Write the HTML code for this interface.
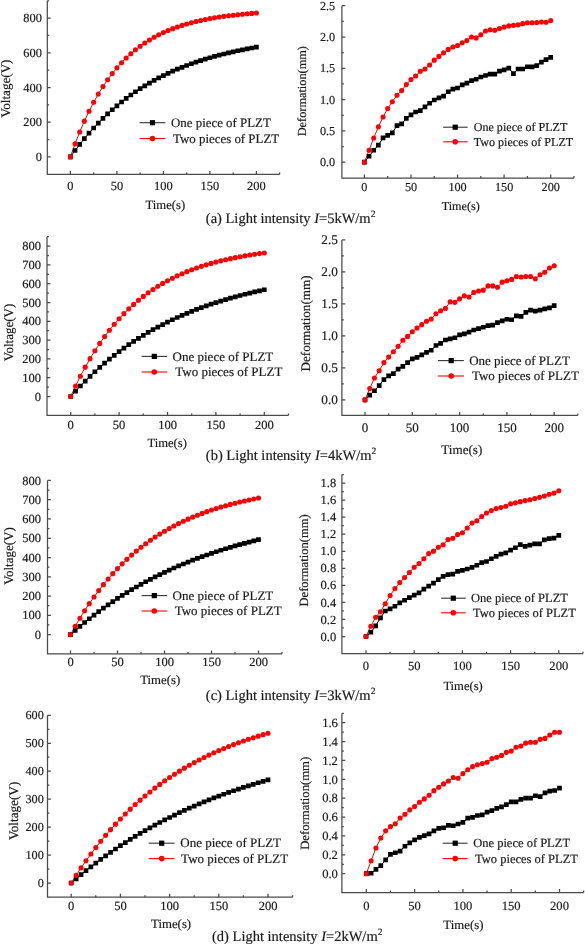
<!DOCTYPE html>
<html><head><meta charset="utf-8"><style>
html,body{margin:0;padding:0;background:#fff;}
svg{display:block;will-change:transform;filter:blur(0.3px);}
text{font-family:"Liberation Serif", serif;fill:#1a1a1a;text-rendering:geometricPrecision;stroke:#1a1a1a;stroke-width:0.18px;}
</style></head><body>
<svg width="585" height="944" viewBox="0 0 585 944">
<rect width="585" height="944" fill="#fff"/>
<g>
<path d="M47.3 0.75V174.3H279.65" fill="none" stroke="#4a4a4a" stroke-width="1.25"/>
<path d="M70.4 174.3v-3.4M116.9 174.3v-3.4M163.4 174.3v-3.4M209.9 174.3v-3.4M256.4 174.3v-3.4M93.65 174.3v-1.9M140.15 174.3v-1.9M186.65 174.3v-1.9M233.15 174.3v-1.9M279.65 174.3v-1.9M47.3 156.9h3.4M47.3 139.55h1.9M47.3 122.2h3.4M47.3 104.85h1.9M47.3 87.5h3.4M47.3 70.15h1.9M47.3 52.8h3.4M47.3 35.45h1.9M47.3 18.1h3.4M47.3 0.75h1.9" fill="none" stroke="#4a4a4a" stroke-width="1.25"/>
<text x="41.9" y="160.99" font-size="12.4" text-anchor="end">0</text>
<text x="41.9" y="126.29" font-size="12.4" text-anchor="end">200</text>
<text x="41.9" y="91.59" font-size="12.4" text-anchor="end">400</text>
<text x="41.9" y="56.89" font-size="12.4" text-anchor="end">600</text>
<text x="41.9" y="22.19" font-size="12.4" text-anchor="end">800</text>
<text x="70.4" y="189.79" font-size="12.4" text-anchor="middle">0</text>
<text x="116.9" y="189.79" font-size="12.4" text-anchor="middle">50</text>
<text x="163.4" y="189.79" font-size="12.4" text-anchor="middle">100</text>
<text x="209.9" y="189.79" font-size="12.4" text-anchor="middle">150</text>
<text x="256.4" y="189.79" font-size="12.4" text-anchor="middle">200</text>
<text x="165.3" y="209.49" font-size="12.7" text-anchor="middle">Time(s)</text>
<text transform="translate(10.22 88.5) rotate(-90)" font-size="13.1" text-anchor="middle">Voltage(V)</text>
<polyline points="70.4,156.9 75.05,150.5 79.7,144.42 84.35,138.65 89,133.18 93.65,128 98.3,123.07 102.95,118.4 107.6,113.97 112.25,109.77 116.9,105.78 121.55,102 126.2,98.41 130.85,95 135.5,91.77 140.15,88.7 144.8,85.8 149.45,83.04 154.1,80.42 158.75,77.94 163.4,75.58 168.05,73.34 172.7,71.22 177.35,69.21 182,67.3 186.65,65.49 191.3,63.77 195.95,62.14 200.6,60.6 205.25,59.13 209.9,57.74 214.55,56.42 219.2,55.16 223.85,53.98 228.5,52.85 233.15,51.78 237.8,50.76 242.45,49.8 247.1,48.89 251.75,48.02 256.4,47.2" fill="none" stroke="#000" stroke-width="1"/>
<polyline points="70.4,156.9 75.05,143.86 79.7,131.97 84.35,121.13 89,111.25 93.65,102.25 98.3,94.04 102.95,86.56 107.6,79.74 112.25,73.52 116.9,67.85 121.55,62.68 126.2,57.97 130.85,53.68 135.5,49.77 140.15,46.2 144.8,42.95 149.45,39.98 154.1,37.28 158.75,34.82 163.4,32.57 168.05,30.52 172.7,28.66 177.35,26.96 182,25.41 186.65,23.99 191.3,22.7 195.95,21.53 200.6,20.46 205.25,19.48 209.9,18.59 214.55,17.78 219.2,17.04 223.85,16.37 228.5,15.76 233.15,15.2 237.8,14.69 242.45,14.22 247.1,13.8 251.75,13.41 256.4,13.06" fill="none" stroke="#f00" stroke-width="1"/>
<path d="M68.05 154.55h4.7v4.7h-4.7zM72.7 148.15h4.7v4.7h-4.7zM77.35 142.07h4.7v4.7h-4.7zM82 136.3h4.7v4.7h-4.7zM86.65 130.83h4.7v4.7h-4.7zM91.3 125.65h4.7v4.7h-4.7zM95.95 120.72h4.7v4.7h-4.7zM100.6 116.05h4.7v4.7h-4.7zM105.25 111.62h4.7v4.7h-4.7zM109.9 107.42h4.7v4.7h-4.7zM114.55 103.43h4.7v4.7h-4.7zM119.2 99.65h4.7v4.7h-4.7zM123.85 96.06h4.7v4.7h-4.7zM128.5 92.65h4.7v4.7h-4.7zM133.15 89.42h4.7v4.7h-4.7zM137.8 86.35h4.7v4.7h-4.7zM142.45 83.45h4.7v4.7h-4.7zM147.1 80.69h4.7v4.7h-4.7zM151.75 78.07h4.7v4.7h-4.7zM156.4 75.59h4.7v4.7h-4.7zM161.05 73.23h4.7v4.7h-4.7zM165.7 70.99h4.7v4.7h-4.7zM170.35 68.87h4.7v4.7h-4.7zM175 66.86h4.7v4.7h-4.7zM179.65 64.95h4.7v4.7h-4.7zM184.3 63.14h4.7v4.7h-4.7zM188.95 61.42h4.7v4.7h-4.7zM193.6 59.79h4.7v4.7h-4.7zM198.25 58.25h4.7v4.7h-4.7zM202.9 56.78h4.7v4.7h-4.7zM207.55 55.39h4.7v4.7h-4.7zM212.2 54.07h4.7v4.7h-4.7zM216.85 52.81h4.7v4.7h-4.7zM221.5 51.63h4.7v4.7h-4.7zM226.15 50.5h4.7v4.7h-4.7zM230.8 49.43h4.7v4.7h-4.7zM235.45 48.41h4.7v4.7h-4.7zM240.1 47.45h4.7v4.7h-4.7zM244.75 46.54h4.7v4.7h-4.7zM249.4 45.67h4.7v4.7h-4.7zM254.05 44.85h4.7v4.7h-4.7z" fill="#000"/>
<g fill="#f00"><circle cx="70.4" cy="156.9" r="2.55"/><circle cx="75.05" cy="143.86" r="2.55"/><circle cx="79.7" cy="131.97" r="2.55"/><circle cx="84.35" cy="121.13" r="2.55"/><circle cx="89" cy="111.25" r="2.55"/><circle cx="93.65" cy="102.25" r="2.55"/><circle cx="98.3" cy="94.04" r="2.55"/><circle cx="102.95" cy="86.56" r="2.55"/><circle cx="107.6" cy="79.74" r="2.55"/><circle cx="112.25" cy="73.52" r="2.55"/><circle cx="116.9" cy="67.85" r="2.55"/><circle cx="121.55" cy="62.68" r="2.55"/><circle cx="126.2" cy="57.97" r="2.55"/><circle cx="130.85" cy="53.68" r="2.55"/><circle cx="135.5" cy="49.77" r="2.55"/><circle cx="140.15" cy="46.2" r="2.55"/><circle cx="144.8" cy="42.95" r="2.55"/><circle cx="149.45" cy="39.98" r="2.55"/><circle cx="154.1" cy="37.28" r="2.55"/><circle cx="158.75" cy="34.82" r="2.55"/><circle cx="163.4" cy="32.57" r="2.55"/><circle cx="168.05" cy="30.52" r="2.55"/><circle cx="172.7" cy="28.66" r="2.55"/><circle cx="177.35" cy="26.96" r="2.55"/><circle cx="182" cy="25.41" r="2.55"/><circle cx="186.65" cy="23.99" r="2.55"/><circle cx="191.3" cy="22.7" r="2.55"/><circle cx="195.95" cy="21.53" r="2.55"/><circle cx="200.6" cy="20.46" r="2.55"/><circle cx="205.25" cy="19.48" r="2.55"/><circle cx="209.9" cy="18.59" r="2.55"/><circle cx="214.55" cy="17.78" r="2.55"/><circle cx="219.2" cy="17.04" r="2.55"/><circle cx="223.85" cy="16.37" r="2.55"/><circle cx="228.5" cy="15.76" r="2.55"/><circle cx="233.15" cy="15.2" r="2.55"/><circle cx="237.8" cy="14.69" r="2.55"/><circle cx="242.45" cy="14.22" r="2.55"/><circle cx="247.1" cy="13.8" r="2.55"/><circle cx="251.75" cy="13.41" r="2.55"/><circle cx="256.4" cy="13.06" r="2.55"/></g>
<path d="M139.6 122.7H165.4" stroke="#333" stroke-width="1.1"/>
<path d="M139.6 138.5H165.4" stroke="#f00" stroke-width="1.1"/>
<rect x="149.9" y="120.1" width="5.2" height="5.2" fill="#000"/>
<circle cx="152.5" cy="138.5" r="2.8" fill="#f00"/>
<text x="171" y="126.96" font-size="12.9" text-anchor="start">One piece of PLZT</text>
<text x="173" y="142.76" font-size="12.9" text-anchor="start">Two pieces of PLZT</text>
</g>
<g>
<path d="M341.9 5.7V178H573.99" fill="none" stroke="#4a4a4a" stroke-width="1.25"/>
<path d="M364.4 178v-3.4M410.97 178v-3.4M457.55 178v-3.4M504.12 178v-3.4M550.7 178v-3.4M387.69 178v-1.9M434.26 178v-1.9M480.84 178v-1.9M527.41 178v-1.9M573.99 178v-1.9M341.9 162.2h3.4M341.9 146.55h1.9M341.9 130.9h3.4M341.9 115.25h1.9M341.9 99.6h3.4M341.9 83.95h1.9M341.9 68.3h3.4M341.9 52.65h1.9M341.9 37h3.4M341.9 21.35h1.9M341.9 5.7h3.4" fill="none" stroke="#4a4a4a" stroke-width="1.25"/>
<text x="335.2" y="166.23" font-size="12.2" text-anchor="end">0.0</text>
<text x="335.2" y="134.93" font-size="12.2" text-anchor="end">0.5</text>
<text x="335.2" y="103.63" font-size="12.2" text-anchor="end">1.0</text>
<text x="335.2" y="72.33" font-size="12.2" text-anchor="end">1.5</text>
<text x="335.2" y="41.03" font-size="12.2" text-anchor="end">2.0</text>
<text x="335.2" y="9.73" font-size="12.2" text-anchor="end">2.5</text>
<text x="364.4" y="190.83" font-size="12.2" text-anchor="middle">0</text>
<text x="410.97" y="190.83" font-size="12.2" text-anchor="middle">50</text>
<text x="457.55" y="190.83" font-size="12.2" text-anchor="middle">100</text>
<text x="504.12" y="190.83" font-size="12.2" text-anchor="middle">150</text>
<text x="550.7" y="190.83" font-size="12.2" text-anchor="middle">200</text>
<text x="460.8" y="209.63" font-size="12.2" text-anchor="middle">Time(s)</text>
<text transform="translate(305.76 91.2) rotate(-90)" font-size="12.3" text-anchor="middle">Deformation(mm)</text>
<polyline points="364.4,162.2 369.06,156.25 373.71,150.24 378.37,145.11 383.03,137.97 387.69,135.41 392.34,132.84 397,125.64 401.66,123.95 406.32,118.32 410.97,114.87 415.63,111.99 420.29,110.62 424.95,106.86 429.6,103.23 434.26,99.98 438.92,97.78 443.58,96.09 448.23,91.77 452.89,89.21 457.55,88.02 462.21,84.89 466.87,83.14 471.52,80.57 476.18,79.25 480.84,77 485.5,75.5 490.15,74.12 494.81,74.12 499.47,71.05 504.12,69.8 508.78,68.11 513.44,73.56 518.1,68.99 522.75,68.99 527.41,66.73 532.07,66.92 536.73,65.55 541.38,62.17 546.04,59.6 550.7,57.34" fill="none" stroke="#000" stroke-width="1"/>
<polyline points="364.4,162.2 369.06,150.24 373.71,137.97 378.37,126.83 383.03,117.07 387.69,108.55 392.34,101.73 397,95.22 401.66,90.59 406.32,84.58 410.97,79.51 415.63,76.06 420.29,71.3 424.95,69.05 429.6,64.98 434.26,60.16 438.92,56.41 443.58,52.84 448.23,49.39 452.89,47.02 457.55,45.45 462.21,42.82 466.87,40.44 471.52,37 476.18,37.88 480.84,34.81 485.5,31.05 490.15,29.68 494.81,30.18 499.47,28.49 504.12,27.11 508.78,25.92 513.44,25.36 518.1,24.86 522.75,23.67 527.41,22.79 532.07,22.79 536.73,22.48 541.38,21.98 546.04,22.29 550.7,20.6" fill="none" stroke="#f00" stroke-width="1"/>
<path d="M362.05 159.85h4.7v4.7h-4.7zM366.71 153.9h4.7v4.7h-4.7zM371.36 147.89h4.7v4.7h-4.7zM376.02 142.76h4.7v4.7h-4.7zM380.68 135.62h4.7v4.7h-4.7zM385.34 133.06h4.7v4.7h-4.7zM389.99 130.49h4.7v4.7h-4.7zM394.65 123.29h4.7v4.7h-4.7zM399.31 121.6h4.7v4.7h-4.7zM403.97 115.97h4.7v4.7h-4.7zM408.62 112.52h4.7v4.7h-4.7zM413.28 109.64h4.7v4.7h-4.7zM417.94 108.27h4.7v4.7h-4.7zM422.6 104.51h4.7v4.7h-4.7zM427.25 100.88h4.7v4.7h-4.7zM431.91 97.63h4.7v4.7h-4.7zM436.57 95.43h4.7v4.7h-4.7zM441.23 93.74h4.7v4.7h-4.7zM445.88 89.42h4.7v4.7h-4.7zM450.54 86.86h4.7v4.7h-4.7zM455.2 85.67h4.7v4.7h-4.7zM459.86 82.54h4.7v4.7h-4.7zM464.51 80.79h4.7v4.7h-4.7zM469.17 78.22h4.7v4.7h-4.7zM473.83 76.91h4.7v4.7h-4.7zM478.49 74.65h4.7v4.7h-4.7zM483.14 73.15h4.7v4.7h-4.7zM487.8 71.77h4.7v4.7h-4.7zM492.46 71.77h4.7v4.7h-4.7zM497.12 68.7h4.7v4.7h-4.7zM501.77 67.45h4.7v4.7h-4.7zM506.43 65.76h4.7v4.7h-4.7zM511.09 71.21h4.7v4.7h-4.7zM515.75 66.64h4.7v4.7h-4.7zM520.4 66.64h4.7v4.7h-4.7zM525.06 64.38h4.7v4.7h-4.7zM529.72 64.57h4.7v4.7h-4.7zM534.38 63.2h4.7v4.7h-4.7zM539.03 59.82h4.7v4.7h-4.7zM543.69 57.25h4.7v4.7h-4.7zM548.35 54.99h4.7v4.7h-4.7z" fill="#000"/>
<g fill="#f00"><circle cx="364.4" cy="162.2" r="2.55"/><circle cx="369.06" cy="150.24" r="2.55"/><circle cx="373.71" cy="137.97" r="2.55"/><circle cx="378.37" cy="126.83" r="2.55"/><circle cx="383.03" cy="117.07" r="2.55"/><circle cx="387.69" cy="108.55" r="2.55"/><circle cx="392.34" cy="101.73" r="2.55"/><circle cx="397" cy="95.22" r="2.55"/><circle cx="401.66" cy="90.59" r="2.55"/><circle cx="406.32" cy="84.58" r="2.55"/><circle cx="410.97" cy="79.51" r="2.55"/><circle cx="415.63" cy="76.06" r="2.55"/><circle cx="420.29" cy="71.3" r="2.55"/><circle cx="424.95" cy="69.05" r="2.55"/><circle cx="429.6" cy="64.98" r="2.55"/><circle cx="434.26" cy="60.16" r="2.55"/><circle cx="438.92" cy="56.41" r="2.55"/><circle cx="443.58" cy="52.84" r="2.55"/><circle cx="448.23" cy="49.39" r="2.55"/><circle cx="452.89" cy="47.02" r="2.55"/><circle cx="457.55" cy="45.45" r="2.55"/><circle cx="462.21" cy="42.82" r="2.55"/><circle cx="466.87" cy="40.44" r="2.55"/><circle cx="471.52" cy="37" r="2.55"/><circle cx="476.18" cy="37.88" r="2.55"/><circle cx="480.84" cy="34.81" r="2.55"/><circle cx="485.5" cy="31.05" r="2.55"/><circle cx="490.15" cy="29.68" r="2.55"/><circle cx="494.81" cy="30.18" r="2.55"/><circle cx="499.47" cy="28.49" r="2.55"/><circle cx="504.12" cy="27.11" r="2.55"/><circle cx="508.78" cy="25.92" r="2.55"/><circle cx="513.44" cy="25.36" r="2.55"/><circle cx="518.1" cy="24.86" r="2.55"/><circle cx="522.75" cy="23.67" r="2.55"/><circle cx="527.41" cy="22.79" r="2.55"/><circle cx="532.07" cy="22.79" r="2.55"/><circle cx="536.73" cy="22.48" r="2.55"/><circle cx="541.38" cy="21.98" r="2.55"/><circle cx="546.04" cy="22.29" r="2.55"/><circle cx="550.7" cy="20.6" r="2.55"/></g>
<path d="M443.2 127.2H467.6" stroke="#333" stroke-width="1.1"/>
<path d="M443.2 141.8H467.6" stroke="#f00" stroke-width="1.1"/>
<rect x="452.6" y="124.6" width="5.2" height="5.2" fill="#000"/>
<circle cx="455.2" cy="141.8" r="2.8" fill="#f00"/>
<text x="473.7" y="131.19" font-size="12.1" text-anchor="start">One piece of PLZT</text>
<text x="473.7" y="145.79" font-size="12.1" text-anchor="start">Two pieces of PLZT</text>
</g>
<g>
<path d="M47 236.7V415.3H288.5" fill="none" stroke="#4a4a4a" stroke-width="1.25"/>
<path d="M70.7 415.3v-3.4M119.1 415.3v-3.4M167.5 415.3v-3.4M215.9 415.3v-3.4M264.3 415.3v-3.4M94.9 415.3v-1.9M143.3 415.3v-1.9M191.7 415.3v-1.9M240.1 415.3v-1.9M288.5 415.3v-1.9M47 396.5h3.4M47 387.1h1.9M47 377.7h3.4M47 368.3h1.9M47 358.9h3.4M47 349.5h1.9M47 340.1h3.4M47 330.7h1.9M47 321.3h3.4M47 311.9h1.9M47 302.5h3.4M47 293.1h1.9M47 283.7h3.4M47 274.3h1.9M47 264.9h3.4M47 255.5h1.9M47 246.1h3.4M47 236.7h1.9" fill="none" stroke="#4a4a4a" stroke-width="1.25"/>
<text x="41" y="400.62" font-size="12.5" text-anchor="end">0</text>
<text x="41" y="381.82" font-size="12.5" text-anchor="end">100</text>
<text x="41" y="363.02" font-size="12.5" text-anchor="end">200</text>
<text x="41" y="344.23" font-size="12.5" text-anchor="end">300</text>
<text x="41" y="325.43" font-size="12.5" text-anchor="end">400</text>
<text x="41" y="306.62" font-size="12.5" text-anchor="end">500</text>
<text x="41" y="287.82" font-size="12.5" text-anchor="end">600</text>
<text x="41" y="269.02" font-size="12.5" text-anchor="end">700</text>
<text x="41" y="250.22" font-size="12.5" text-anchor="end">800</text>
<text x="70.7" y="428.93" font-size="12.5" text-anchor="middle">0</text>
<text x="119.1" y="428.93" font-size="12.5" text-anchor="middle">50</text>
<text x="167.5" y="428.93" font-size="12.5" text-anchor="middle">100</text>
<text x="215.9" y="428.93" font-size="12.5" text-anchor="middle">150</text>
<text x="264.3" y="428.93" font-size="12.5" text-anchor="middle">200</text>
<text x="167.2" y="446.86" font-size="12.6" text-anchor="middle">Time(s)</text>
<text transform="translate(13.19 332.5) rotate(-90)" font-size="13" text-anchor="middle">Voltage(V)</text>
<polyline points="70.7,396.5 75.54,391.13 80.38,385.98 85.22,381.04 90.06,376.3 94.9,371.75 99.74,367.39 104.58,363.21 109.42,359.2 114.26,355.35 119.1,351.66 123.94,348.12 128.78,344.72 133.62,341.46 138.46,338.34 143.3,335.34 148.14,332.47 152.98,329.71 157.82,327.06 162.66,324.53 167.5,322.09 172.34,319.76 177.18,317.52 182.02,315.37 186.86,313.31 191.7,311.34 196.54,309.44 201.38,307.62 206.22,305.88 211.06,304.21 215.9,302.6 220.74,301.07 225.58,299.59 230.42,298.17 235.26,296.82 240.1,295.51 244.94,294.26 249.78,293.07 254.62,291.92 259.46,290.81 264.3,289.76" fill="none" stroke="#000" stroke-width="1"/>
<polyline points="70.7,396.5 75.54,386 80.38,376.23 85.22,367.13 90.06,358.65 94.9,350.77 99.74,343.42 104.58,336.58 109.42,330.22 114.26,324.29 119.1,318.77 123.94,313.63 128.78,308.84 133.62,304.39 138.46,300.24 143.3,296.38 148.14,292.78 152.98,289.44 157.82,286.32 162.66,283.42 167.5,280.71 172.34,278.2 177.18,275.86 182.02,273.68 186.86,271.64 191.7,269.75 196.54,267.99 201.38,266.35 206.22,264.83 211.06,263.41 215.9,262.09 220.74,260.85 225.58,259.71 230.42,258.64 235.26,257.65 240.1,256.72 244.94,255.86 249.78,255.06 254.62,254.31 259.46,253.61 264.3,252.97" fill="none" stroke="#f00" stroke-width="1"/>
<path d="M68.35 394.15h4.7v4.7h-4.7zM73.19 388.78h4.7v4.7h-4.7zM78.03 383.63h4.7v4.7h-4.7zM82.87 378.69h4.7v4.7h-4.7zM87.71 373.95h4.7v4.7h-4.7zM92.55 369.4h4.7v4.7h-4.7zM97.39 365.04h4.7v4.7h-4.7zM102.23 360.86h4.7v4.7h-4.7zM107.07 356.85h4.7v4.7h-4.7zM111.91 353h4.7v4.7h-4.7zM116.75 349.31h4.7v4.7h-4.7zM121.59 345.77h4.7v4.7h-4.7zM126.43 342.37h4.7v4.7h-4.7zM131.27 339.11h4.7v4.7h-4.7zM136.11 335.99h4.7v4.7h-4.7zM140.95 332.99h4.7v4.7h-4.7zM145.79 330.12h4.7v4.7h-4.7zM150.63 327.36h4.7v4.7h-4.7zM155.47 324.71h4.7v4.7h-4.7zM160.31 322.18h4.7v4.7h-4.7zM165.15 319.74h4.7v4.7h-4.7zM169.99 317.41h4.7v4.7h-4.7zM174.83 315.17h4.7v4.7h-4.7zM179.67 313.02h4.7v4.7h-4.7zM184.51 310.96h4.7v4.7h-4.7zM189.35 308.99h4.7v4.7h-4.7zM194.19 307.09h4.7v4.7h-4.7zM199.03 305.27h4.7v4.7h-4.7zM203.87 303.53h4.7v4.7h-4.7zM208.71 301.86h4.7v4.7h-4.7zM213.55 300.25h4.7v4.7h-4.7zM218.39 298.72h4.7v4.7h-4.7zM223.23 297.24h4.7v4.7h-4.7zM228.07 295.82h4.7v4.7h-4.7zM232.91 294.47h4.7v4.7h-4.7zM237.75 293.16h4.7v4.7h-4.7zM242.59 291.91h4.7v4.7h-4.7zM247.43 290.72h4.7v4.7h-4.7zM252.27 289.57h4.7v4.7h-4.7zM257.11 288.46h4.7v4.7h-4.7zM261.95 287.41h4.7v4.7h-4.7z" fill="#000"/>
<g fill="#f00"><circle cx="70.7" cy="396.5" r="2.55"/><circle cx="75.54" cy="386" r="2.55"/><circle cx="80.38" cy="376.23" r="2.55"/><circle cx="85.22" cy="367.13" r="2.55"/><circle cx="90.06" cy="358.65" r="2.55"/><circle cx="94.9" cy="350.77" r="2.55"/><circle cx="99.74" cy="343.42" r="2.55"/><circle cx="104.58" cy="336.58" r="2.55"/><circle cx="109.42" cy="330.22" r="2.55"/><circle cx="114.26" cy="324.29" r="2.55"/><circle cx="119.1" cy="318.77" r="2.55"/><circle cx="123.94" cy="313.63" r="2.55"/><circle cx="128.78" cy="308.84" r="2.55"/><circle cx="133.62" cy="304.39" r="2.55"/><circle cx="138.46" cy="300.24" r="2.55"/><circle cx="143.3" cy="296.38" r="2.55"/><circle cx="148.14" cy="292.78" r="2.55"/><circle cx="152.98" cy="289.44" r="2.55"/><circle cx="157.82" cy="286.32" r="2.55"/><circle cx="162.66" cy="283.42" r="2.55"/><circle cx="167.5" cy="280.71" r="2.55"/><circle cx="172.34" cy="278.2" r="2.55"/><circle cx="177.18" cy="275.86" r="2.55"/><circle cx="182.02" cy="273.68" r="2.55"/><circle cx="186.86" cy="271.64" r="2.55"/><circle cx="191.7" cy="269.75" r="2.55"/><circle cx="196.54" cy="267.99" r="2.55"/><circle cx="201.38" cy="266.35" r="2.55"/><circle cx="206.22" cy="264.83" r="2.55"/><circle cx="211.06" cy="263.41" r="2.55"/><circle cx="215.9" cy="262.09" r="2.55"/><circle cx="220.74" cy="260.85" r="2.55"/><circle cx="225.58" cy="259.71" r="2.55"/><circle cx="230.42" cy="258.64" r="2.55"/><circle cx="235.26" cy="257.65" r="2.55"/><circle cx="240.1" cy="256.72" r="2.55"/><circle cx="244.94" cy="255.86" r="2.55"/><circle cx="249.78" cy="255.06" r="2.55"/><circle cx="254.62" cy="254.31" r="2.55"/><circle cx="259.46" cy="253.61" r="2.55"/><circle cx="264.3" cy="252.97" r="2.55"/></g>
<path d="M141.6 356.4H167.3" stroke="#333" stroke-width="1.1"/>
<path d="M141.6 372H167.3" stroke="#f00" stroke-width="1.1"/>
<rect x="151.7" y="353.8" width="5.2" height="5.2" fill="#000"/>
<circle cx="154.3" cy="372" r="2.8" fill="#f00"/>
<text x="172.6" y="360.69" font-size="13" text-anchor="start">One piece of PLZT</text>
<text x="175.3" y="376.29" font-size="13" text-anchor="start">Two pieces of PLZT</text>
</g>
<g>
<path d="M341.9 239.9V415.3H577.85" fill="none" stroke="#4a4a4a" stroke-width="1.25"/>
<path d="M365 415.3v-3.4M412.3 415.3v-3.4M459.6 415.3v-3.4M506.9 415.3v-3.4M554.2 415.3v-3.4M388.65 415.3v-1.9M435.95 415.3v-1.9M483.25 415.3v-1.9M530.55 415.3v-1.9M577.85 415.3v-1.9M341.9 399.9h3.4M341.9 383.9h1.9M341.9 367.9h3.4M341.9 351.9h1.9M341.9 335.9h3.4M341.9 319.9h1.9M341.9 303.9h3.4M341.9 287.9h1.9M341.9 271.9h3.4M341.9 255.9h1.9M341.9 239.9h3.4" fill="none" stroke="#4a4a4a" stroke-width="1.25"/>
<text x="337.8" y="404.26" font-size="13.2" text-anchor="end">0.0</text>
<text x="337.8" y="372.26" font-size="13.2" text-anchor="end">0.5</text>
<text x="337.8" y="340.26" font-size="13.2" text-anchor="end">1.0</text>
<text x="337.8" y="308.26" font-size="13.2" text-anchor="end">1.5</text>
<text x="337.8" y="276.26" font-size="13.2" text-anchor="end">2.0</text>
<text x="337.8" y="244.26" font-size="13.2" text-anchor="end">2.5</text>
<text x="365" y="432.49" font-size="13" text-anchor="middle">0</text>
<text x="412.3" y="432.49" font-size="13" text-anchor="middle">50</text>
<text x="459.6" y="432.49" font-size="13" text-anchor="middle">100</text>
<text x="506.9" y="432.49" font-size="13" text-anchor="middle">150</text>
<text x="554.2" y="432.49" font-size="13" text-anchor="middle">200</text>
<text x="461.8" y="454.22" font-size="13.1" text-anchor="middle">Time(s)</text>
<text transform="translate(310.22 323.5) rotate(-90)" font-size="13.1" text-anchor="middle">Deformation(mm)</text>
<polyline points="365,399.9 369.73,395.04 374.46,390.75 379.19,385.63 383.92,379.68 388.65,375.9 393.38,373.66 398.11,369.05 402.84,366.3 407.57,362.59 412.3,358.81 417.03,357.47 421.76,354.84 426.49,352.28 431.22,350.24 435.95,345.5 440.68,343.45 445.41,340 450.14,338.97 454.87,337.76 459.6,334.94 464.33,333.79 469.06,332.06 473.79,330.01 478.52,328.6 483.25,327.26 487.98,325.72 492.71,325.21 497.44,322.65 502.17,320.92 506.9,319.26 511.63,319.77 516.36,315.8 521.09,316.32 525.82,312.41 530.55,310.17 535.28,311.2 540.01,310.17 544.74,308.96 549.47,307.8 554.2,305.56" fill="none" stroke="#000" stroke-width="1"/>
<polyline points="365,399.9 369.73,388.57 374.46,377.95 379.19,370.78 383.92,362.59 388.65,357.08 393.38,351.77 398.11,346.33 402.84,340.32 407.57,336.41 412.3,331.8 417.03,328.03 421.76,324.64 426.49,321.18 431.22,318.94 435.95,313.82 440.68,310.75 445.41,308.38 450.14,301.85 454.87,302.36 459.6,298.84 464.33,295.84 469.06,296.99 473.79,292.38 478.52,291.04 483.25,290.14 487.98,285.92 492.71,285.92 497.44,287.26 502.17,282.14 506.9,280.8 511.63,279.39 516.36,276.51 521.09,277.02 525.82,276.51 530.55,276.51 535.28,278.75 540.01,274.78 544.74,272.22 549.47,267.93 554.2,265.76" fill="none" stroke="#f00" stroke-width="1"/>
<path d="M362.65 397.55h4.7v4.7h-4.7zM367.38 392.69h4.7v4.7h-4.7zM372.11 388.4h4.7v4.7h-4.7zM376.84 383.28h4.7v4.7h-4.7zM381.57 377.33h4.7v4.7h-4.7zM386.3 373.55h4.7v4.7h-4.7zM391.03 371.31h4.7v4.7h-4.7zM395.76 366.7h4.7v4.7h-4.7zM400.49 363.95h4.7v4.7h-4.7zM405.22 360.24h4.7v4.7h-4.7zM409.95 356.46h4.7v4.7h-4.7zM414.68 355.12h4.7v4.7h-4.7zM419.41 352.49h4.7v4.7h-4.7zM424.14 349.93h4.7v4.7h-4.7zM428.87 347.89h4.7v4.7h-4.7zM433.6 343.15h4.7v4.7h-4.7zM438.33 341.1h4.7v4.7h-4.7zM443.06 337.65h4.7v4.7h-4.7zM447.79 336.62h4.7v4.7h-4.7zM452.52 335.41h4.7v4.7h-4.7zM457.25 332.59h4.7v4.7h-4.7zM461.98 331.44h4.7v4.7h-4.7zM466.71 329.71h4.7v4.7h-4.7zM471.44 327.66h4.7v4.7h-4.7zM476.17 326.25h4.7v4.7h-4.7zM480.9 324.91h4.7v4.7h-4.7zM485.63 323.37h4.7v4.7h-4.7zM490.36 322.86h4.7v4.7h-4.7zM495.09 320.3h4.7v4.7h-4.7zM499.82 318.57h4.7v4.7h-4.7zM504.55 316.91h4.7v4.7h-4.7zM509.28 317.42h4.7v4.7h-4.7zM514.01 313.45h4.7v4.7h-4.7zM518.74 313.97h4.7v4.7h-4.7zM523.47 310.06h4.7v4.7h-4.7zM528.2 307.82h4.7v4.7h-4.7zM532.93 308.85h4.7v4.7h-4.7zM537.66 307.82h4.7v4.7h-4.7zM542.39 306.61h4.7v4.7h-4.7zM547.12 305.45h4.7v4.7h-4.7zM551.85 303.21h4.7v4.7h-4.7z" fill="#000"/>
<g fill="#f00"><circle cx="365" cy="399.9" r="2.55"/><circle cx="369.73" cy="388.57" r="2.55"/><circle cx="374.46" cy="377.95" r="2.55"/><circle cx="379.19" cy="370.78" r="2.55"/><circle cx="383.92" cy="362.59" r="2.55"/><circle cx="388.65" cy="357.08" r="2.55"/><circle cx="393.38" cy="351.77" r="2.55"/><circle cx="398.11" cy="346.33" r="2.55"/><circle cx="402.84" cy="340.32" r="2.55"/><circle cx="407.57" cy="336.41" r="2.55"/><circle cx="412.3" cy="331.8" r="2.55"/><circle cx="417.03" cy="328.03" r="2.55"/><circle cx="421.76" cy="324.64" r="2.55"/><circle cx="426.49" cy="321.18" r="2.55"/><circle cx="431.22" cy="318.94" r="2.55"/><circle cx="435.95" cy="313.82" r="2.55"/><circle cx="440.68" cy="310.75" r="2.55"/><circle cx="445.41" cy="308.38" r="2.55"/><circle cx="450.14" cy="301.85" r="2.55"/><circle cx="454.87" cy="302.36" r="2.55"/><circle cx="459.6" cy="298.84" r="2.55"/><circle cx="464.33" cy="295.84" r="2.55"/><circle cx="469.06" cy="296.99" r="2.55"/><circle cx="473.79" cy="292.38" r="2.55"/><circle cx="478.52" cy="291.04" r="2.55"/><circle cx="483.25" cy="290.14" r="2.55"/><circle cx="487.98" cy="285.92" r="2.55"/><circle cx="492.71" cy="285.92" r="2.55"/><circle cx="497.44" cy="287.26" r="2.55"/><circle cx="502.17" cy="282.14" r="2.55"/><circle cx="506.9" cy="280.8" r="2.55"/><circle cx="511.63" cy="279.39" r="2.55"/><circle cx="516.36" cy="276.51" r="2.55"/><circle cx="521.09" cy="277.02" r="2.55"/><circle cx="525.82" cy="276.51" r="2.55"/><circle cx="530.55" cy="276.51" r="2.55"/><circle cx="535.28" cy="278.75" r="2.55"/><circle cx="540.01" cy="274.78" r="2.55"/><circle cx="544.74" cy="272.22" r="2.55"/><circle cx="549.47" cy="267.93" r="2.55"/><circle cx="554.2" cy="265.76" r="2.55"/></g>
<path d="M437.9 360.6H463.9" stroke="#333" stroke-width="1.1"/>
<path d="M437.9 376H463.9" stroke="#f00" stroke-width="1.1"/>
<rect x="448.6" y="358" width="5.2" height="5.2" fill="#000"/>
<circle cx="451.2" cy="376" r="2.8" fill="#f00"/>
<text x="469.2" y="364.89" font-size="13" text-anchor="start">One piece of PLZT</text>
<text x="471.9" y="380.29" font-size="13" text-anchor="start">Two pieces of PLZT</text>
</g>
<g>
<path d="M47.5 480.44V653.8H282" fill="none" stroke="#4a4a4a" stroke-width="1.25"/>
<path d="M70.5 653.8v-3.4M117.5 653.8v-3.4M164.5 653.8v-3.4M211.5 653.8v-3.4M258.5 653.8v-3.4M94 653.8v-1.9M141 653.8v-1.9M188 653.8v-1.9M235 653.8v-1.9M282 653.8v-1.9M47.5 634.6h3.4M47.5 624.97h1.9M47.5 615.33h3.4M47.5 605.7h1.9M47.5 596.06h3.4M47.5 586.43h1.9M47.5 576.79h3.4M47.5 567.15h1.9M47.5 557.52h3.4M47.5 547.88h1.9M47.5 538.25h3.4M47.5 528.62h1.9M47.5 518.98h3.4M47.5 509.35h1.9M47.5 499.71h3.4M47.5 490.08h1.9M47.5 480.44h3.4" fill="none" stroke="#4a4a4a" stroke-width="1.25"/>
<text x="41" y="638.73" font-size="12.5" text-anchor="end">0</text>
<text x="41" y="619.46" font-size="12.5" text-anchor="end">100</text>
<text x="41" y="600.19" font-size="12.5" text-anchor="end">200</text>
<text x="41" y="580.91" font-size="12.5" text-anchor="end">300</text>
<text x="41" y="561.64" font-size="12.5" text-anchor="end">400</text>
<text x="41" y="542.38" font-size="12.5" text-anchor="end">500</text>
<text x="41" y="523.11" font-size="12.5" text-anchor="end">600</text>
<text x="41" y="503.84" font-size="12.5" text-anchor="end">700</text>
<text x="41" y="484.57" font-size="12.5" text-anchor="end">800</text>
<text x="70.5" y="666.33" font-size="12.5" text-anchor="middle">0</text>
<text x="117.5" y="666.33" font-size="12.5" text-anchor="middle">50</text>
<text x="164.5" y="666.33" font-size="12.5" text-anchor="middle">100</text>
<text x="211.5" y="666.33" font-size="12.5" text-anchor="middle">150</text>
<text x="258.5" y="666.33" font-size="12.5" text-anchor="middle">200</text>
<text x="160.2" y="684.22" font-size="12.8" text-anchor="middle">Time(s)</text>
<text transform="translate(12.69 556) rotate(-90)" font-size="13" text-anchor="middle">Voltage(V)</text>
<polyline points="70.5,634.6 75.2,630.44 79.9,626.41 84.6,622.51 89.3,618.74 94,615.08 98.7,611.54 103.4,608.11 108.1,604.8 112.8,601.58 117.5,598.47 122.2,595.46 126.9,592.54 131.6,589.72 136.3,586.98 141,584.33 145.7,581.77 150.4,579.29 155.1,576.88 159.8,574.56 164.5,572.3 169.2,570.12 173.9,568.01 178.6,565.96 183.3,563.98 188,562.06 192.7,560.21 197.4,558.41 202.1,556.67 206.8,554.98 211.5,553.35 216.2,551.77 220.9,550.24 225.6,548.76 230.3,547.32 235,545.93 239.7,544.59 244.4,543.29 249.1,542.03 253.8,540.8 258.5,539.62" fill="none" stroke="#000" stroke-width="1"/>
<polyline points="70.5,634.6 75.2,626.19 79.9,618.25 84.6,610.74 89.3,603.65 94,596.95 98.7,590.62 103.4,584.64 108.1,578.99 112.8,573.66 117.5,568.62 122.2,563.85 126.9,559.35 131.6,555.1 136.3,551.08 141,547.29 145.7,543.7 150.4,540.31 155.1,537.11 159.8,534.09 164.5,531.23 169.2,528.53 173.9,525.98 178.6,523.57 183.3,521.3 188,519.15 192.7,517.12 197.4,515.2 202.1,513.38 206.8,511.67 211.5,510.05 216.2,508.52 220.9,507.08 225.6,505.71 230.3,504.42 235,503.2 239.7,502.05 244.4,500.97 249.1,499.94 253.8,498.97 258.5,498.05" fill="none" stroke="#f00" stroke-width="1"/>
<path d="M68.15 632.25h4.7v4.7h-4.7zM72.85 628.09h4.7v4.7h-4.7zM77.55 624.06h4.7v4.7h-4.7zM82.25 620.16h4.7v4.7h-4.7zM86.95 616.39h4.7v4.7h-4.7zM91.65 612.73h4.7v4.7h-4.7zM96.35 609.19h4.7v4.7h-4.7zM101.05 605.76h4.7v4.7h-4.7zM105.75 602.45h4.7v4.7h-4.7zM110.45 599.23h4.7v4.7h-4.7zM115.15 596.12h4.7v4.7h-4.7zM119.85 593.11h4.7v4.7h-4.7zM124.55 590.19h4.7v4.7h-4.7zM129.25 587.37h4.7v4.7h-4.7zM133.95 584.63h4.7v4.7h-4.7zM138.65 581.98h4.7v4.7h-4.7zM143.35 579.42h4.7v4.7h-4.7zM148.05 576.94h4.7v4.7h-4.7zM152.75 574.53h4.7v4.7h-4.7zM157.45 572.21h4.7v4.7h-4.7zM162.15 569.95h4.7v4.7h-4.7zM166.85 567.77h4.7v4.7h-4.7zM171.55 565.66h4.7v4.7h-4.7zM176.25 563.61h4.7v4.7h-4.7zM180.95 561.63h4.7v4.7h-4.7zM185.65 559.71h4.7v4.7h-4.7zM190.35 557.86h4.7v4.7h-4.7zM195.05 556.06h4.7v4.7h-4.7zM199.75 554.32h4.7v4.7h-4.7zM204.45 552.63h4.7v4.7h-4.7zM209.15 551h4.7v4.7h-4.7zM213.85 549.42h4.7v4.7h-4.7zM218.55 547.89h4.7v4.7h-4.7zM223.25 546.41h4.7v4.7h-4.7zM227.95 544.97h4.7v4.7h-4.7zM232.65 543.58h4.7v4.7h-4.7zM237.35 542.24h4.7v4.7h-4.7zM242.05 540.94h4.7v4.7h-4.7zM246.75 539.68h4.7v4.7h-4.7zM251.45 538.45h4.7v4.7h-4.7zM256.15 537.27h4.7v4.7h-4.7z" fill="#000"/>
<g fill="#f00"><circle cx="70.5" cy="634.6" r="2.55"/><circle cx="75.2" cy="626.19" r="2.55"/><circle cx="79.9" cy="618.25" r="2.55"/><circle cx="84.6" cy="610.74" r="2.55"/><circle cx="89.3" cy="603.65" r="2.55"/><circle cx="94" cy="596.95" r="2.55"/><circle cx="98.7" cy="590.62" r="2.55"/><circle cx="103.4" cy="584.64" r="2.55"/><circle cx="108.1" cy="578.99" r="2.55"/><circle cx="112.8" cy="573.66" r="2.55"/><circle cx="117.5" cy="568.62" r="2.55"/><circle cx="122.2" cy="563.85" r="2.55"/><circle cx="126.9" cy="559.35" r="2.55"/><circle cx="131.6" cy="555.1" r="2.55"/><circle cx="136.3" cy="551.08" r="2.55"/><circle cx="141" cy="547.29" r="2.55"/><circle cx="145.7" cy="543.7" r="2.55"/><circle cx="150.4" cy="540.31" r="2.55"/><circle cx="155.1" cy="537.11" r="2.55"/><circle cx="159.8" cy="534.09" r="2.55"/><circle cx="164.5" cy="531.23" r="2.55"/><circle cx="169.2" cy="528.53" r="2.55"/><circle cx="173.9" cy="525.98" r="2.55"/><circle cx="178.6" cy="523.57" r="2.55"/><circle cx="183.3" cy="521.3" r="2.55"/><circle cx="188" cy="519.15" r="2.55"/><circle cx="192.7" cy="517.12" r="2.55"/><circle cx="197.4" cy="515.2" r="2.55"/><circle cx="202.1" cy="513.38" r="2.55"/><circle cx="206.8" cy="511.67" r="2.55"/><circle cx="211.5" cy="510.05" r="2.55"/><circle cx="216.2" cy="508.52" r="2.55"/><circle cx="220.9" cy="507.08" r="2.55"/><circle cx="225.6" cy="505.71" r="2.55"/><circle cx="230.3" cy="504.42" r="2.55"/><circle cx="235" cy="503.2" r="2.55"/><circle cx="239.7" cy="502.05" r="2.55"/><circle cx="244.4" cy="500.97" r="2.55"/><circle cx="249.1" cy="499.94" r="2.55"/><circle cx="253.8" cy="498.97" r="2.55"/><circle cx="258.5" cy="498.05" r="2.55"/></g>
<path d="M141.6 595.6H167.3" stroke="#333" stroke-width="1.1"/>
<path d="M141.6 611H167.3" stroke="#f00" stroke-width="1.1"/>
<rect x="151.7" y="593" width="5.2" height="5.2" fill="#000"/>
<circle cx="154.3" cy="611" r="2.8" fill="#f00"/>
<text x="172.6" y="599.89" font-size="13" text-anchor="start">One piece of PLZT</text>
<text x="174.7" y="615.29" font-size="13" text-anchor="start">Two pieces of PLZT</text>
</g>
<g>
<path d="M341.9 474.52V653.7H582.9" fill="none" stroke="#4a4a4a" stroke-width="1.25"/>
<path d="M366 653.7v-3.4M414.2 653.7v-3.4M462.4 653.7v-3.4M510.6 653.7v-3.4M558.8 653.7v-3.4M390.1 653.7v-1.9M438.3 653.7v-1.9M486.5 653.7v-1.9M534.7 653.7v-1.9M582.9 653.7v-1.9M341.9 636.5h3.4M341.9 627.98h1.9M341.9 619.45h3.4M341.9 610.92h1.9M341.9 602.4h3.4M341.9 593.88h1.9M341.9 585.35h3.4M341.9 576.83h1.9M341.9 568.3h3.4M341.9 559.77h1.9M341.9 551.25h3.4M341.9 542.73h1.9M341.9 534.2h3.4M341.9 525.67h1.9M341.9 517.15h3.4M341.9 508.62h1.9M341.9 500.1h3.4M341.9 491.57h1.9M341.9 483.05h3.4M341.9 474.52h1.9" fill="none" stroke="#4a4a4a" stroke-width="1.25"/>
<text x="336.2" y="640.62" font-size="12.5" text-anchor="end">0.0</text>
<text x="336.2" y="623.58" font-size="12.5" text-anchor="end">0.2</text>
<text x="336.2" y="606.52" font-size="12.5" text-anchor="end">0.4</text>
<text x="336.2" y="589.48" font-size="12.5" text-anchor="end">0.6</text>
<text x="336.2" y="572.42" font-size="12.5" text-anchor="end">0.8</text>
<text x="336.2" y="555.38" font-size="12.5" text-anchor="end">1.0</text>
<text x="336.2" y="538.33" font-size="12.5" text-anchor="end">1.2</text>
<text x="336.2" y="521.27" font-size="12.5" text-anchor="end">1.4</text>
<text x="336.2" y="504.23" font-size="12.5" text-anchor="end">1.6</text>
<text x="336.2" y="487.17" font-size="12.5" text-anchor="end">1.8</text>
<text x="366" y="669.66" font-size="12.6" text-anchor="middle">0</text>
<text x="414.2" y="669.66" font-size="12.6" text-anchor="middle">50</text>
<text x="462.4" y="669.66" font-size="12.6" text-anchor="middle">100</text>
<text x="510.6" y="669.66" font-size="12.6" text-anchor="middle">150</text>
<text x="558.8" y="669.66" font-size="12.6" text-anchor="middle">200</text>
<text x="463.1" y="689.96" font-size="12.6" text-anchor="middle">Time(s)</text>
<text transform="translate(307.66 560.4) rotate(-90)" font-size="12.6" text-anchor="middle">Deformation(mm)</text>
<polyline points="366,636.5 370.82,632.24 375.64,625.93 380.46,617.83 385.28,611.01 390.1,608.79 394.92,606.24 399.74,602.83 404.56,600.27 409.38,597.71 414.2,595.15 419.02,592.94 423.84,589.19 428.66,586.03 433.48,583.13 438.3,579.72 443.12,576.31 447.94,574.61 452.76,574.1 457.58,571.45 462.4,570.35 467.22,568.98 472.04,567.28 476.86,565.23 481.68,562.67 486.5,561.48 491.32,558.75 496.14,556.37 500.96,554.06 505.78,552.87 510.6,550.14 515.42,547.75 520.24,544.69 525.06,546.39 529.88,545.03 534.7,543.83 539.52,543.83 544.34,539.91 549.16,538.72 553.98,538.04 558.8,535.31" fill="none" stroke="#000" stroke-width="1"/>
<polyline points="366,636.5 370.82,626.27 375.64,617.32 380.46,611.69 385.28,603.68 390.1,595.49 394.92,588.59 399.74,582.62 404.56,577.51 409.38,572.56 414.2,567.28 419.02,563.53 423.84,558.75 428.66,553.55 433.48,551.16 438.3,547.24 443.12,544.69 447.94,539.57 452.76,538.21 457.58,534.46 462.4,532.75 467.22,527.98 472.04,523.03 476.86,520.73 481.68,516.47 486.5,513.06 491.32,510.5 496.14,508.45 500.96,507.6 505.78,506.24 510.6,503.68 515.42,502.83 520.24,501.63 525.06,500.61 529.88,499.76 534.7,498.57 539.52,497.37 544.34,496.01 549.16,494.3 553.98,493.11 558.8,490.81" fill="none" stroke="#f00" stroke-width="1"/>
<path d="M363.65 634.15h4.7v4.7h-4.7zM368.47 629.89h4.7v4.7h-4.7zM373.29 623.58h4.7v4.7h-4.7zM378.11 615.48h4.7v4.7h-4.7zM382.93 608.66h4.7v4.7h-4.7zM387.75 606.44h4.7v4.7h-4.7zM392.57 603.89h4.7v4.7h-4.7zM397.39 600.48h4.7v4.7h-4.7zM402.21 597.92h4.7v4.7h-4.7zM407.03 595.36h4.7v4.7h-4.7zM411.85 592.8h4.7v4.7h-4.7zM416.67 590.59h4.7v4.7h-4.7zM421.49 586.84h4.7v4.7h-4.7zM426.31 583.68h4.7v4.7h-4.7zM431.13 580.78h4.7v4.7h-4.7zM435.95 577.37h4.7v4.7h-4.7zM440.77 573.96h4.7v4.7h-4.7zM445.59 572.26h4.7v4.7h-4.7zM450.41 571.75h4.7v4.7h-4.7zM455.23 569.1h4.7v4.7h-4.7zM460.05 568h4.7v4.7h-4.7zM464.87 566.63h4.7v4.7h-4.7zM469.69 564.93h4.7v4.7h-4.7zM474.51 562.88h4.7v4.7h-4.7zM479.33 560.32h4.7v4.7h-4.7zM484.15 559.13h4.7v4.7h-4.7zM488.97 556.4h4.7v4.7h-4.7zM493.79 554.01h4.7v4.7h-4.7zM498.61 551.71h4.7v4.7h-4.7zM503.43 550.52h4.7v4.7h-4.7zM508.25 547.79h4.7v4.7h-4.7zM513.07 545.4h4.7v4.7h-4.7zM517.89 542.34h4.7v4.7h-4.7zM522.71 544.04h4.7v4.7h-4.7zM527.53 542.68h4.7v4.7h-4.7zM532.35 541.48h4.7v4.7h-4.7zM537.17 541.48h4.7v4.7h-4.7zM541.99 537.56h4.7v4.7h-4.7zM546.81 536.37h4.7v4.7h-4.7zM551.63 535.69h4.7v4.7h-4.7zM556.45 532.96h4.7v4.7h-4.7z" fill="#000"/>
<g fill="#f00"><circle cx="366" cy="636.5" r="2.55"/><circle cx="370.82" cy="626.27" r="2.55"/><circle cx="375.64" cy="617.32" r="2.55"/><circle cx="380.46" cy="611.69" r="2.55"/><circle cx="385.28" cy="603.68" r="2.55"/><circle cx="390.1" cy="595.49" r="2.55"/><circle cx="394.92" cy="588.59" r="2.55"/><circle cx="399.74" cy="582.62" r="2.55"/><circle cx="404.56" cy="577.51" r="2.55"/><circle cx="409.38" cy="572.56" r="2.55"/><circle cx="414.2" cy="567.28" r="2.55"/><circle cx="419.02" cy="563.53" r="2.55"/><circle cx="423.84" cy="558.75" r="2.55"/><circle cx="428.66" cy="553.55" r="2.55"/><circle cx="433.48" cy="551.16" r="2.55"/><circle cx="438.3" cy="547.24" r="2.55"/><circle cx="443.12" cy="544.69" r="2.55"/><circle cx="447.94" cy="539.57" r="2.55"/><circle cx="452.76" cy="538.21" r="2.55"/><circle cx="457.58" cy="534.46" r="2.55"/><circle cx="462.4" cy="532.75" r="2.55"/><circle cx="467.22" cy="527.98" r="2.55"/><circle cx="472.04" cy="523.03" r="2.55"/><circle cx="476.86" cy="520.73" r="2.55"/><circle cx="481.68" cy="516.47" r="2.55"/><circle cx="486.5" cy="513.06" r="2.55"/><circle cx="491.32" cy="510.5" r="2.55"/><circle cx="496.14" cy="508.45" r="2.55"/><circle cx="500.96" cy="507.6" r="2.55"/><circle cx="505.78" cy="506.24" r="2.55"/><circle cx="510.6" cy="503.68" r="2.55"/><circle cx="515.42" cy="502.83" r="2.55"/><circle cx="520.24" cy="501.63" r="2.55"/><circle cx="525.06" cy="500.61" r="2.55"/><circle cx="529.88" cy="499.76" r="2.55"/><circle cx="534.7" cy="498.57" r="2.55"/><circle cx="539.52" cy="497.37" r="2.55"/><circle cx="544.34" cy="496.01" r="2.55"/><circle cx="549.16" cy="494.3" r="2.55"/><circle cx="553.98" cy="493.11" r="2.55"/><circle cx="558.8" cy="490.81" r="2.55"/></g>
<path d="M441.1 598.2H465.8" stroke="#333" stroke-width="1.1"/>
<path d="M441.1 612.8H465.8" stroke="#f00" stroke-width="1.1"/>
<rect x="450.7" y="595.6" width="5.2" height="5.2" fill="#000"/>
<circle cx="453.3" cy="612.8" r="2.8" fill="#f00"/>
<text x="471.1" y="602.33" font-size="12.5" text-anchor="start">One piece of PLZT</text>
<text x="472.9" y="616.92" font-size="12.5" text-anchor="start">Two pieces of PLZT</text>
</g>
<g>
<path d="M47.5 715.3V897.2H292.6" fill="none" stroke="#4a4a4a" stroke-width="1.25"/>
<path d="M71.2 897.2v-3.4M120.4 897.2v-3.4M169.6 897.2v-3.4M218.8 897.2v-3.4M268 897.2v-3.4M95.8 897.2v-1.9M145 897.2v-1.9M194.2 897.2v-1.9M243.4 897.2v-1.9M292.6 897.2v-1.9M47.5 883h3.4M47.5 869.02h1.9M47.5 855.05h3.4M47.5 841.08h1.9M47.5 827.1h3.4M47.5 813.12h1.9M47.5 799.15h3.4M47.5 785.17h1.9M47.5 771.2h3.4M47.5 757.23h1.9M47.5 743.25h3.4M47.5 729.27h1.9M47.5 715.3h3.4" fill="none" stroke="#4a4a4a" stroke-width="1.25"/>
<text x="43.8" y="887.03" font-size="12.2" text-anchor="end">0</text>
<text x="43.8" y="859.08" font-size="12.2" text-anchor="end">100</text>
<text x="43.8" y="831.13" font-size="12.2" text-anchor="end">200</text>
<text x="43.8" y="803.18" font-size="12.2" text-anchor="end">300</text>
<text x="43.8" y="775.23" font-size="12.2" text-anchor="end">400</text>
<text x="43.8" y="747.28" font-size="12.2" text-anchor="end">500</text>
<text x="43.8" y="719.33" font-size="12.2" text-anchor="end">600</text>
<text x="71.2" y="910.42" font-size="12.5" text-anchor="middle">0</text>
<text x="120.4" y="910.42" font-size="12.5" text-anchor="middle">50</text>
<text x="169.6" y="910.42" font-size="12.5" text-anchor="middle">100</text>
<text x="218.8" y="910.42" font-size="12.5" text-anchor="middle">150</text>
<text x="268" y="910.42" font-size="12.5" text-anchor="middle">200</text>
<text x="171.1" y="928.32" font-size="12.8" text-anchor="middle">Time(s)</text>
<text transform="translate(17.86 810.9) rotate(-90)" font-size="13.2" text-anchor="middle">Voltage(V)</text>
<polyline points="71.2,883 76.12,878.79 81.04,874.69 85.96,870.71 90.88,866.83 95.8,863.07 100.72,859.4 105.64,855.84 110.56,852.37 115.48,849 120.4,845.72 125.32,842.53 130.24,839.42 135.16,836.41 140.08,833.47 145,830.62 149.92,827.84 154.84,825.14 159.76,822.51 164.68,819.96 169.6,817.48 174.52,815.06 179.44,812.71 184.36,810.42 189.28,808.2 194.2,806.04 199.12,803.93 204.04,801.89 208.96,799.9 213.88,797.97 218.8,796.08 223.72,794.25 228.64,792.47 233.56,790.74 238.48,789.06 243.4,787.42 248.32,785.83 253.24,784.28 258.16,782.77 263.08,781.31 268,779.88" fill="none" stroke="#000" stroke-width="1"/>
<polyline points="71.2,883 76.12,875.27 81.04,867.87 85.96,860.78 90.88,854 95.8,847.5 100.72,841.28 105.64,835.33 110.56,829.63 115.48,824.17 120.4,818.94 125.32,813.94 130.24,809.15 135.16,804.56 140.08,800.17 145,795.96 149.92,791.94 154.84,788.08 159.76,784.39 164.68,780.85 169.6,777.47 174.52,774.23 179.44,771.13 184.36,768.16 189.28,765.32 194.2,762.59 199.12,759.99 204.04,757.49 208.96,755.1 213.88,752.81 218.8,750.62 223.72,748.52 228.64,746.52 233.56,744.59 238.48,742.75 243.4,740.99 248.32,739.3 253.24,737.69 258.16,736.14 263.08,734.66 268,733.24" fill="none" stroke="#f00" stroke-width="1"/>
<path d="M68.85 880.65h4.7v4.7h-4.7zM73.77 876.44h4.7v4.7h-4.7zM78.69 872.34h4.7v4.7h-4.7zM83.61 868.36h4.7v4.7h-4.7zM88.53 864.48h4.7v4.7h-4.7zM93.45 860.72h4.7v4.7h-4.7zM98.37 857.05h4.7v4.7h-4.7zM103.29 853.49h4.7v4.7h-4.7zM108.21 850.02h4.7v4.7h-4.7zM113.13 846.65h4.7v4.7h-4.7zM118.05 843.37h4.7v4.7h-4.7zM122.97 840.18h4.7v4.7h-4.7zM127.89 837.07h4.7v4.7h-4.7zM132.81 834.06h4.7v4.7h-4.7zM137.73 831.12h4.7v4.7h-4.7zM142.65 828.27h4.7v4.7h-4.7zM147.57 825.49h4.7v4.7h-4.7zM152.49 822.79h4.7v4.7h-4.7zM157.41 820.16h4.7v4.7h-4.7zM162.33 817.61h4.7v4.7h-4.7zM167.25 815.13h4.7v4.7h-4.7zM172.17 812.71h4.7v4.7h-4.7zM177.09 810.36h4.7v4.7h-4.7zM182.01 808.07h4.7v4.7h-4.7zM186.93 805.85h4.7v4.7h-4.7zM191.85 803.69h4.7v4.7h-4.7zM196.77 801.58h4.7v4.7h-4.7zM201.69 799.54h4.7v4.7h-4.7zM206.61 797.55h4.7v4.7h-4.7zM211.53 795.62h4.7v4.7h-4.7zM216.45 793.73h4.7v4.7h-4.7zM221.37 791.9h4.7v4.7h-4.7zM226.29 790.12h4.7v4.7h-4.7zM231.21 788.39h4.7v4.7h-4.7zM236.13 786.71h4.7v4.7h-4.7zM241.05 785.07h4.7v4.7h-4.7zM245.97 783.48h4.7v4.7h-4.7zM250.89 781.93h4.7v4.7h-4.7zM255.81 780.42h4.7v4.7h-4.7zM260.73 778.96h4.7v4.7h-4.7zM265.65 777.53h4.7v4.7h-4.7z" fill="#000"/>
<g fill="#f00"><circle cx="71.2" cy="883" r="2.55"/><circle cx="76.12" cy="875.27" r="2.55"/><circle cx="81.04" cy="867.87" r="2.55"/><circle cx="85.96" cy="860.78" r="2.55"/><circle cx="90.88" cy="854" r="2.55"/><circle cx="95.8" cy="847.5" r="2.55"/><circle cx="100.72" cy="841.28" r="2.55"/><circle cx="105.64" cy="835.33" r="2.55"/><circle cx="110.56" cy="829.63" r="2.55"/><circle cx="115.48" cy="824.17" r="2.55"/><circle cx="120.4" cy="818.94" r="2.55"/><circle cx="125.32" cy="813.94" r="2.55"/><circle cx="130.24" cy="809.15" r="2.55"/><circle cx="135.16" cy="804.56" r="2.55"/><circle cx="140.08" cy="800.17" r="2.55"/><circle cx="145" cy="795.96" r="2.55"/><circle cx="149.92" cy="791.94" r="2.55"/><circle cx="154.84" cy="788.08" r="2.55"/><circle cx="159.76" cy="784.39" r="2.55"/><circle cx="164.68" cy="780.85" r="2.55"/><circle cx="169.6" cy="777.47" r="2.55"/><circle cx="174.52" cy="774.23" r="2.55"/><circle cx="179.44" cy="771.13" r="2.55"/><circle cx="184.36" cy="768.16" r="2.55"/><circle cx="189.28" cy="765.32" r="2.55"/><circle cx="194.2" cy="762.59" r="2.55"/><circle cx="199.12" cy="759.99" r="2.55"/><circle cx="204.04" cy="757.49" r="2.55"/><circle cx="208.96" cy="755.1" r="2.55"/><circle cx="213.88" cy="752.81" r="2.55"/><circle cx="218.8" cy="750.62" r="2.55"/><circle cx="223.72" cy="748.52" r="2.55"/><circle cx="228.64" cy="746.52" r="2.55"/><circle cx="233.56" cy="744.59" r="2.55"/><circle cx="238.48" cy="742.75" r="2.55"/><circle cx="243.4" cy="740.99" r="2.55"/><circle cx="248.32" cy="739.3" r="2.55"/><circle cx="253.24" cy="737.69" r="2.55"/><circle cx="258.16" cy="736.14" r="2.55"/><circle cx="263.08" cy="734.66" r="2.55"/><circle cx="268" cy="733.24" r="2.55"/></g>
<path d="M148.7 843.2H174.4" stroke="#333" stroke-width="1.1"/>
<path d="M148.7 858.6H174.4" stroke="#f00" stroke-width="1.1"/>
<rect x="159.1" y="840.6" width="5.2" height="5.2" fill="#000"/>
<circle cx="161.7" cy="858.6" r="2.8" fill="#f00"/>
<text x="180.3" y="847.49" font-size="13" text-anchor="start">One piece of PLZT</text>
<text x="181.1" y="862.89" font-size="13" text-anchor="start">Two pieces of PLZT</text>
</g>
<g>
<path d="M341.9 713.31V892.5H583.65" fill="none" stroke="#4a4a4a" stroke-width="1.25"/>
<path d="M366.3 892.5v-3.4M414.6 892.5v-3.4M462.9 892.5v-3.4M511.2 892.5v-3.4M559.5 892.5v-3.4M390.45 892.5v-1.9M438.75 892.5v-1.9M487.05 892.5v-1.9M535.35 892.5v-1.9M583.65 892.5v-1.9M341.9 873.7h3.4M341.9 864.27h1.9M341.9 854.83h3.4M341.9 845.4h1.9M341.9 835.96h3.4M341.9 826.53h1.9M341.9 817.09h3.4M341.9 807.66h1.9M341.9 798.22h3.4M341.9 788.79h1.9M341.9 779.35h3.4M341.9 769.92h1.9M341.9 760.48h3.4M341.9 751.05h1.9M341.9 741.61h3.4M341.9 732.18h1.9M341.9 722.74h3.4M341.9 713.31h1.9" fill="none" stroke="#4a4a4a" stroke-width="1.25"/>
<text x="337.9" y="877.86" font-size="12.6" text-anchor="end">0.0</text>
<text x="337.9" y="858.99" font-size="12.6" text-anchor="end">0.2</text>
<text x="337.9" y="840.12" font-size="12.6" text-anchor="end">0.4</text>
<text x="337.9" y="821.25" font-size="12.6" text-anchor="end">0.6</text>
<text x="337.9" y="802.38" font-size="12.6" text-anchor="end">0.8</text>
<text x="337.9" y="783.51" font-size="12.6" text-anchor="end">1.0</text>
<text x="337.9" y="764.64" font-size="12.6" text-anchor="end">1.2</text>
<text x="337.9" y="745.77" font-size="12.6" text-anchor="end">1.4</text>
<text x="337.9" y="726.9" font-size="12.6" text-anchor="end">1.6</text>
<text x="366.3" y="909.66" font-size="12.6" text-anchor="middle">0</text>
<text x="414.6" y="909.66" font-size="12.6" text-anchor="middle">50</text>
<text x="462.9" y="909.66" font-size="12.6" text-anchor="middle">100</text>
<text x="511.2" y="909.66" font-size="12.6" text-anchor="middle">150</text>
<text x="559.5" y="909.66" font-size="12.6" text-anchor="middle">200</text>
<text x="463.4" y="928.92" font-size="12.8" text-anchor="middle">Time(s)</text>
<text transform="translate(308.59 803.3) rotate(-90)" font-size="12.7" text-anchor="middle">Deformation(mm)</text>
<polyline points="366.3,873.7 371.13,873.23 375.96,869.36 380.79,865.59 385.62,859.92 390.45,854.45 395.28,852.75 400.11,851.06 404.94,846.24 409.77,842.85 414.6,839.92 419.43,837.38 424.26,835.68 429.09,833.79 433.92,830.87 438.75,828.32 443.58,827.75 448.41,825.39 453.24,825.77 458.07,823.98 462.9,822.47 467.73,818.13 472.56,817.37 477.39,815.49 482.22,814.92 487.05,812.18 491.88,810.67 496.71,808.41 501.54,806.9 506.37,804.64 511.2,801.81 516.03,801.81 520.86,799.35 525.69,798.03 530.52,798.03 535.35,795.77 540.18,796.71 545.01,792.94 549.84,791.05 554.67,790.48 559.5,788.03" fill="none" stroke="#000" stroke-width="1"/>
<polyline points="366.3,873.7 371.13,860.77 375.96,847.94 380.79,838.04 385.62,830.87 390.45,826.62 395.28,823.69 400.11,818.03 404.94,814.26 409.77,809.83 414.6,806.62 419.43,802.18 424.26,798.88 429.09,795.3 433.92,790.67 438.75,787.28 443.58,783.88 448.41,780.95 453.24,777.56 458.07,778.22 462.9,773.59 467.73,769.82 472.56,766.61 477.39,764.73 482.22,763.59 487.05,762.27 491.88,758.59 496.71,757.27 501.54,755.39 506.37,752.37 511.2,751.05 516.03,747.27 520.86,745.95 525.69,743.12 530.52,742.18 535.35,742.18 540.18,739.35 545.01,738.4 549.84,735.01 554.67,732.18 559.5,732.18" fill="none" stroke="#f00" stroke-width="1"/>
<path d="M363.95 871.35h4.7v4.7h-4.7zM368.78 870.88h4.7v4.7h-4.7zM373.61 867.01h4.7v4.7h-4.7zM378.44 863.24h4.7v4.7h-4.7zM383.27 857.57h4.7v4.7h-4.7zM388.1 852.1h4.7v4.7h-4.7zM392.93 850.4h4.7v4.7h-4.7zM397.76 848.71h4.7v4.7h-4.7zM402.59 843.89h4.7v4.7h-4.7zM407.42 840.5h4.7v4.7h-4.7zM412.25 837.57h4.7v4.7h-4.7zM417.08 835.03h4.7v4.7h-4.7zM421.91 833.33h4.7v4.7h-4.7zM426.74 831.44h4.7v4.7h-4.7zM431.57 828.52h4.7v4.7h-4.7zM436.4 825.97h4.7v4.7h-4.7zM441.23 825.4h4.7v4.7h-4.7zM446.06 823.04h4.7v4.7h-4.7zM450.89 823.42h4.7v4.7h-4.7zM455.72 821.63h4.7v4.7h-4.7zM460.55 820.12h4.7v4.7h-4.7zM465.38 815.78h4.7v4.7h-4.7zM470.21 815.02h4.7v4.7h-4.7zM475.04 813.14h4.7v4.7h-4.7zM479.87 812.57h4.7v4.7h-4.7zM484.7 809.83h4.7v4.7h-4.7zM489.53 808.32h4.7v4.7h-4.7zM494.36 806.06h4.7v4.7h-4.7zM499.19 804.55h4.7v4.7h-4.7zM504.02 802.29h4.7v4.7h-4.7zM508.85 799.46h4.7v4.7h-4.7zM513.68 799.46h4.7v4.7h-4.7zM518.51 797h4.7v4.7h-4.7zM523.34 795.68h4.7v4.7h-4.7zM528.17 795.68h4.7v4.7h-4.7zM533 793.42h4.7v4.7h-4.7zM537.83 794.36h4.7v4.7h-4.7zM542.66 790.59h4.7v4.7h-4.7zM547.49 788.7h4.7v4.7h-4.7zM552.32 788.13h4.7v4.7h-4.7zM557.15 785.68h4.7v4.7h-4.7z" fill="#000"/>
<g fill="#f00"><circle cx="366.3" cy="873.7" r="2.55"/><circle cx="371.13" cy="860.77" r="2.55"/><circle cx="375.96" cy="847.94" r="2.55"/><circle cx="380.79" cy="838.04" r="2.55"/><circle cx="385.62" cy="830.87" r="2.55"/><circle cx="390.45" cy="826.62" r="2.55"/><circle cx="395.28" cy="823.69" r="2.55"/><circle cx="400.11" cy="818.03" r="2.55"/><circle cx="404.94" cy="814.26" r="2.55"/><circle cx="409.77" cy="809.83" r="2.55"/><circle cx="414.6" cy="806.62" r="2.55"/><circle cx="419.43" cy="802.18" r="2.55"/><circle cx="424.26" cy="798.88" r="2.55"/><circle cx="429.09" cy="795.3" r="2.55"/><circle cx="433.92" cy="790.67" r="2.55"/><circle cx="438.75" cy="787.28" r="2.55"/><circle cx="443.58" cy="783.88" r="2.55"/><circle cx="448.41" cy="780.95" r="2.55"/><circle cx="453.24" cy="777.56" r="2.55"/><circle cx="458.07" cy="778.22" r="2.55"/><circle cx="462.9" cy="773.59" r="2.55"/><circle cx="467.73" cy="769.82" r="2.55"/><circle cx="472.56" cy="766.61" r="2.55"/><circle cx="477.39" cy="764.73" r="2.55"/><circle cx="482.22" cy="763.59" r="2.55"/><circle cx="487.05" cy="762.27" r="2.55"/><circle cx="491.88" cy="758.59" r="2.55"/><circle cx="496.71" cy="757.27" r="2.55"/><circle cx="501.54" cy="755.39" r="2.55"/><circle cx="506.37" cy="752.37" r="2.55"/><circle cx="511.2" cy="751.05" r="2.55"/><circle cx="516.03" cy="747.27" r="2.55"/><circle cx="520.86" cy="745.95" r="2.55"/><circle cx="525.69" cy="743.12" r="2.55"/><circle cx="530.52" cy="742.18" r="2.55"/><circle cx="535.35" cy="742.18" r="2.55"/><circle cx="540.18" cy="739.35" r="2.55"/><circle cx="545.01" cy="738.4" r="2.55"/><circle cx="549.84" cy="735.01" r="2.55"/><circle cx="554.67" cy="732.18" r="2.55"/><circle cx="559.5" cy="732.18" r="2.55"/></g>
<path d="M442.7 843.2H467.6" stroke="#333" stroke-width="1.1"/>
<path d="M442.7 858.6H467.6" stroke="#f00" stroke-width="1.1"/>
<rect x="452.6" y="840.6" width="5.2" height="5.2" fill="#000"/>
<circle cx="455.2" cy="858.6" r="2.8" fill="#f00"/>
<text x="473.2" y="847.33" font-size="12.5" text-anchor="start">One piece of PLZT</text>
<text x="475" y="862.73" font-size="12.5" text-anchor="start">Two pieces of PLZT</text>
</g>
<text x="205.8" y="222.59" font-size="14.5">(a) Light intensity <tspan font-style="italic">I</tspan>=5kW/m<tspan font-size="9.57" dy="-6.09">2</tspan></text>
<text x="205.8" y="460.19" font-size="14.5">(b) Light intensity <tspan font-style="italic">I</tspan>=4kW/m<tspan font-size="9.57" dy="-6.09">2</tspan></text>
<text x="205.8" y="700.18" font-size="14.5">(c) Light intensity <tspan font-style="italic">I</tspan>=3kW/m<tspan font-size="9.57" dy="-6.09">2</tspan></text>
<text x="212" y="940.88" font-size="14.5">(d) Light intensity <tspan font-style="italic">I</tspan>=2kW/m<tspan font-size="9.57" dy="-6.09">2</tspan></text>
</svg>
</body></html>
